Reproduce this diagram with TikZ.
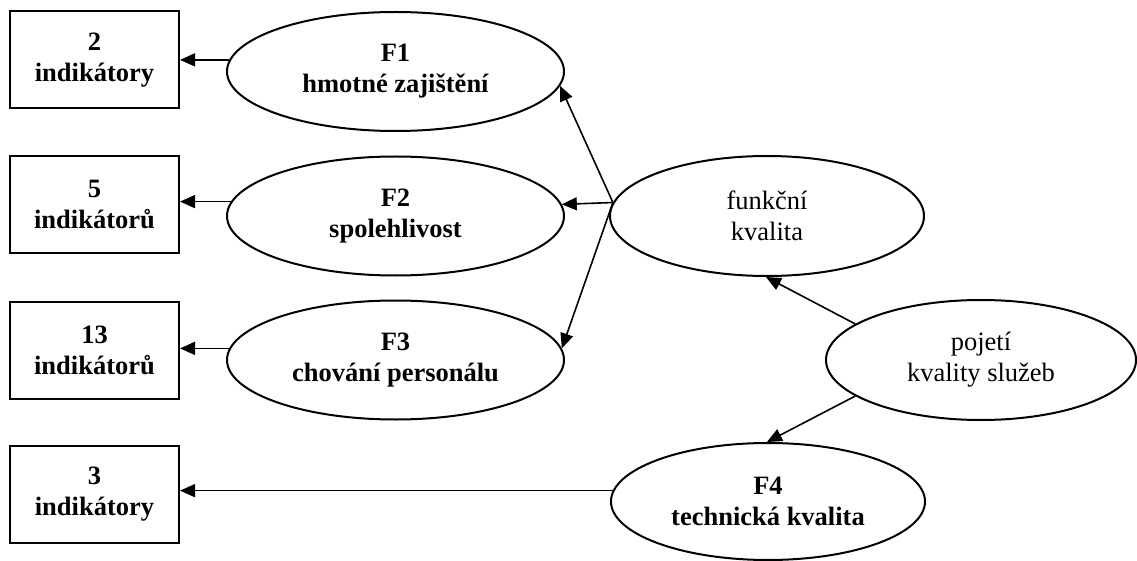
\documentclass[tikz,border=0pt]{standalone}
\usepackage{fontspec}
\setmainfont{Liberation Serif}
\usetikzlibrary{shapes.geometric,arrows.meta}
\begin{document}
\begin{tikzpicture}[x=1pt,y=-1pt,
  every node/.style={font=\fontsize{26.5}{31}\selectfont, align=center, inner sep=0pt},
  ibox/.style={draw, line width=2pt, minimum width=169pt, minimum height=97pt, font=\fontsize{26.5}{31}\selectfont\bfseries},
  fell/.style={draw, ellipse, line width=2pt, minimum width=337pt, minimum height=119pt, font=\fontsize{26.5}{31}\selectfont\bfseries},
  kell/.style={draw, ellipse, line width=2pt, minimum width=314pt, minimum height=120pt},
  arr/.style={line width=1.6pt, -{Triangle[length=15pt,width=13pt]}}
]
\useasboundingbox (0,0) rectangle (1137,561);
\node[ibox] (b1) at (94.5,60) {2\\indikátory};
\node[ibox] (b2) at (94.5,204.5) {5\\indikátorů};
\node[ibox] (b3) at (94.5,350) {13\\indikátorů};
\node[ibox] (b4) at (94.5,494) {3\\indikátory};

\node[fell] (F1) at (395.5,71.5) {F1\\hmotné zajištění};
\node[fell] (F2) at (395.5,216) {F2\\spolehlivost};
\node[fell] (F3) at (395.5,360) {F3\\chování personálu};
\node[kell] (fk) at (767,216) {funkční\\kvalita};
\node[kell, minimum width=310pt] (pk) at (981,360) {pojetí\\kvality služeb};
\node[fell, minimum width=314pt, minimum height=117pt] (F4) at (768,501.5) {F4\\technická kvalita};

\draw[arr] (F1.176) -- (F1.176 -| b1.east);
\draw[arr] (F2.175.5) -- (F2.175.5 -| b2.east);
\draw[arr] (F3.176) -- (F3.176 -| b3.east);
\draw[arr] (F4.176.5) -- (F4.176.5 -| b4.east);

\coordinate (fkw) at (fk.175.6);
\draw[arr] (fkw) -- (F1.-5);
\draw[arr] (fkw) -- (F2.4);
\draw[arr] (fkw) -- (F3.4);

\draw[arr] (pk.164.5) -- (fk.-91);
\draw[arr] (pk.196) -- (F4.91);
\end{tikzpicture}
\end{document}
